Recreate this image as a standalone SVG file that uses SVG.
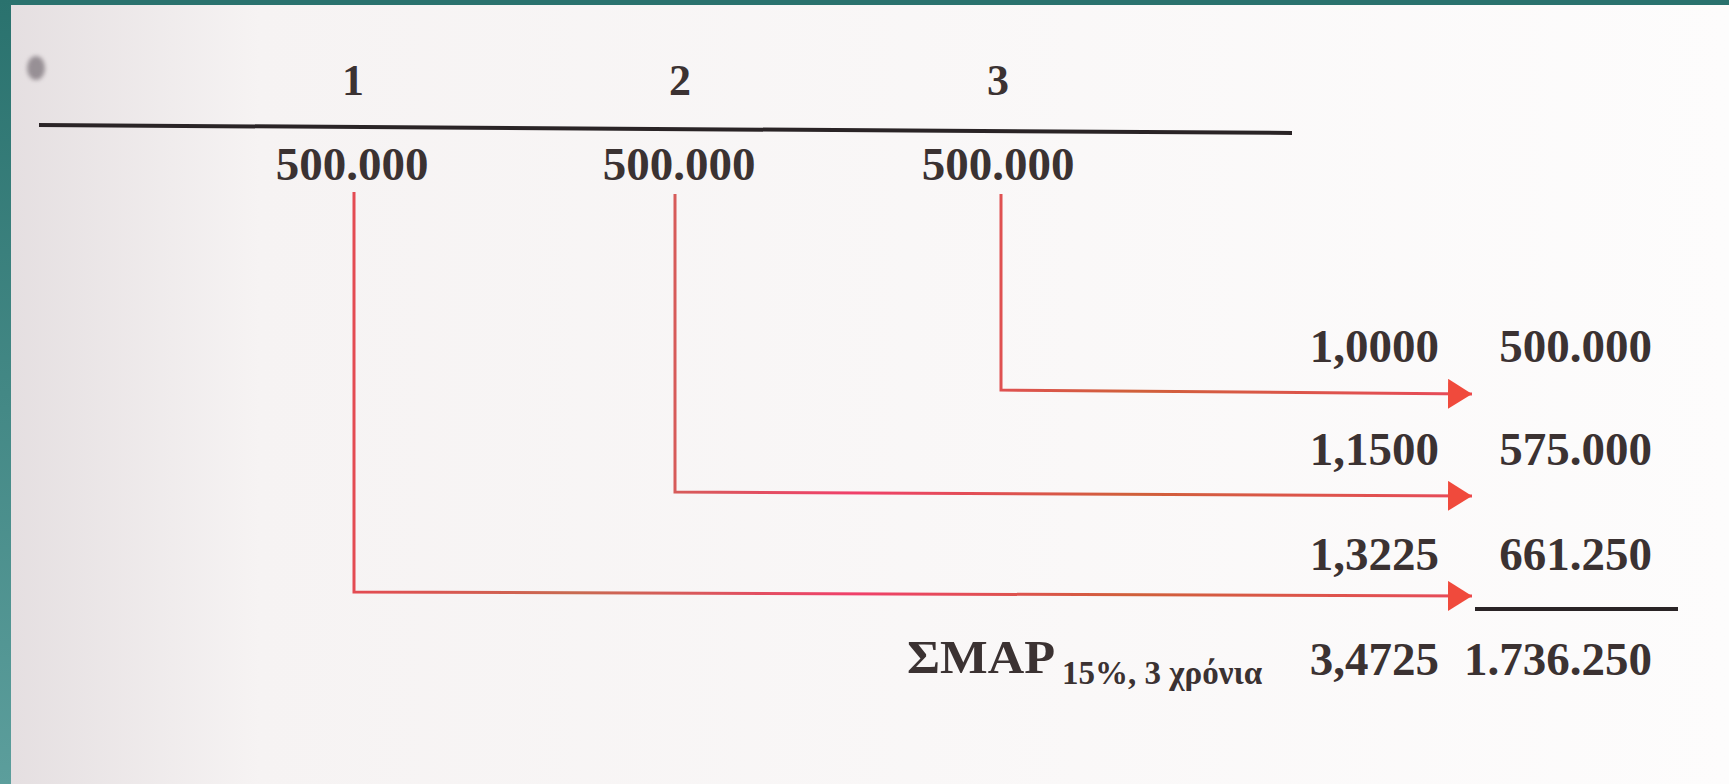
<svg xmlns="http://www.w3.org/2000/svg" width="1729" height="784" viewBox="0 0 1729 784">
<style>
.t{font-family:"Liberation Serif","Times New Roman",serif;font-weight:bold;fill:#3b3232}
.big{font-size:47px}
.hd{font-size:44px}
.sub{font-size:33px}
.conn{fill:none;stroke:url(#rg);stroke-width:3}
</style>
<defs>
<linearGradient id="bg" x1="0" y1="0" x2="1" y2="0">
<stop offset="0" stop-color="#e4dee0"/>
<stop offset="0.15" stop-color="#f6f3f3"/>
<stop offset="1" stop-color="#fdfcfc"/>
</linearGradient>
<linearGradient id="lb" x1="0" y1="0" x2="0" y2="1">
<stop offset="0" stop-color="#2a726e"/>
<stop offset="1" stop-color="#5c9e9c"/>
</linearGradient>
<linearGradient id="rg" gradientUnits="userSpaceOnUse" x1="350" y1="0" x2="1470" y2="0">
<stop offset="0" stop-color="#e44a52"/>
<stop offset="0.2" stop-color="#c86a50"/>
<stop offset="0.45" stop-color="#f0406a"/>
<stop offset="0.7" stop-color="#d0603a"/>
<stop offset="1" stop-color="#e84a5a"/>
</linearGradient>
<marker id="ah" markerWidth="24" markerHeight="30" refX="24" refY="15" orient="auto" markerUnits="userSpaceOnUse">
<path d="M0,0 L24,15 L0,30 Z" fill="#f04a3c"/>
</marker>
<filter id="blur" x="-1" y="-1" width="3" height="3"><feGaussianBlur stdDeviation="2"/></filter>
</defs>
<rect x="0" y="0" width="1729" height="784" fill="url(#bg)"/>
<rect x="0" y="0" width="1729" height="5" fill="#2a726e"/>
<rect x="0" y="0" width="11" height="784" fill="url(#lb)"/>
<ellipse cx="36" cy="68" rx="9" ry="12" fill="#8a8288" opacity="0.85" filter="url(#blur)"/>
<g id="timeline">
<path d="M39,125 L1292,133" stroke="#2a2426" stroke-width="4" fill="none"/>
</g>
<g id="period1">
<text class="t hd" x="353" y="95" text-anchor="middle">1</text>
<text class="t big" x="352" y="180" text-anchor="middle">500.000</text>
</g>
<g id="period2">
<text class="t hd" x="680" y="95" text-anchor="middle">2</text>
<text class="t big" x="679" y="180" text-anchor="middle">500.000</text>
</g>
<g id="period3">
<text class="t hd" x="998" y="95" text-anchor="middle">3</text>
<text class="t big" x="998" y="180" text-anchor="middle">500.000</text>
</g>
<g id="row1">
<text class="t big" x="1439" y="362" text-anchor="end">1,0000</text>
<text class="t big" x="1652" y="362" text-anchor="end">500.000</text>
</g>
<g id="row2">
<text class="t big" x="1439" y="465" text-anchor="end">1,1500</text>
<text class="t big" x="1652" y="465" text-anchor="end">575.000</text>
</g>
<g id="row3">
<text class="t big" x="1439" y="570" text-anchor="end">1,3225</text>
<text class="t big" x="1652" y="570" text-anchor="end">661.250</text>
<path d="M1475,609 L1678,609" stroke="#2a2426" stroke-width="4"/>
</g>
<g id="total">
<text class="t big" x="907" y="673" textLength="148" lengthAdjust="spacingAndGlyphs">ΣMAP</text>
<text class="t sub" x="1062" y="684">15%, 3 χρόνια</text>
<text class="t big" x="1439" y="675" text-anchor="end">3,4725</text>
<text class="t big" x="1652" y="675" text-anchor="end">1.736.250</text>
</g>
<g id="connectors">
<path class="conn" d="M1001,194 L1001,390 L1472,394" marker-end="url(#ah)"/>
<path class="conn" d="M675,194 L675,492 L1472,496" marker-end="url(#ah)"/>
<path class="conn" d="M354,192 L354,592 L1472,596" marker-end="url(#ah)"/>
</g>
</svg>
